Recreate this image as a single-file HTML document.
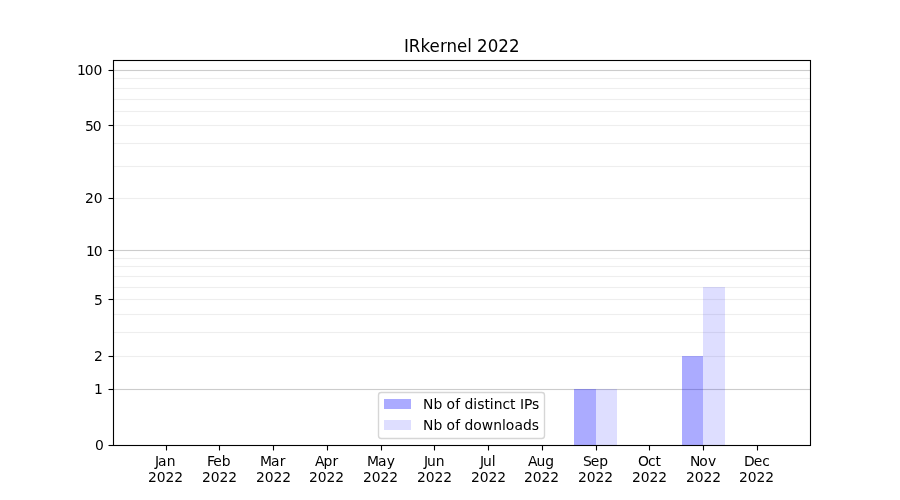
<!DOCTYPE html>
<html lang="en"><head><meta charset="utf-8"><title>IRkernel 2022</title>
<style>
html,body{margin:0;padding:0;background:#ffffff;}
body{width:900px;height:500px;overflow:hidden;}
svg{display:block;}
</style></head><body>
<svg width="900" height="500" viewBox="0 0 900 500">
<rect x="0" y="0" width="900" height="500" fill="#ffffff"/>
<g stroke="#cccccc" stroke-width="1.1111" fill="none">
<rect x="113.5" y="69.9444" width="697" height="1.1111" fill="#cccccc" stroke="none"/>
<rect x="113.5" y="249.9444" width="697" height="1.1111" fill="#cccccc" stroke="none"/>
<rect x="113.5" y="388.9444" width="697" height="1.1111" fill="#cccccc" stroke="none"/>
</g>
<g stroke="#eeeeee" stroke-width="1.1111" fill="none">
<rect x="113.5" y="77.9444" width="697" height="1.1111" fill="#eeeeee" stroke="none"/>
<rect x="113.5" y="87.9444" width="697" height="1.1111" fill="#eeeeee" stroke="none"/>
<rect x="113.5" y="98.9444" width="697" height="1.1111" fill="#eeeeee" stroke="none"/>
<rect x="113.5" y="110.9444" width="697" height="1.1111" fill="#eeeeee" stroke="none"/>
<rect x="113.5" y="124.9444" width="697" height="1.1111" fill="#eeeeee" stroke="none"/>
<rect x="113.5" y="142.9444" width="697" height="1.1111" fill="#eeeeee" stroke="none"/>
<rect x="113.5" y="165.9444" width="697" height="1.1111" fill="#eeeeee" stroke="none"/>
<rect x="113.5" y="197.9444" width="697" height="1.1111" fill="#eeeeee" stroke="none"/>
<rect x="113.5" y="257.9444" width="697" height="1.1111" fill="#eeeeee" stroke="none"/>
<rect x="113.5" y="265.9444" width="697" height="1.1111" fill="#eeeeee" stroke="none"/>
<rect x="113.5" y="275.9444" width="697" height="1.1111" fill="#eeeeee" stroke="none"/>
<rect x="113.5" y="286.9444" width="697" height="1.1111" fill="#eeeeee" stroke="none"/>
<rect x="113.5" y="298.9444" width="697" height="1.1111" fill="#eeeeee" stroke="none"/>
<rect x="113.5" y="313.9444" width="697" height="1.1111" fill="#eeeeee" stroke="none"/>
<rect x="113.5" y="331.9444" width="697" height="1.1111" fill="#eeeeee" stroke="none"/>
<rect x="113.5" y="355.9444" width="697" height="1.1111" fill="#eeeeee" stroke="none"/>
</g>
<g fill="#0000ff" shape-rendering="crispEdges">
<rect x="574" y="389" width="22" height="56" fill-opacity="0.33"/>
<rect x="596" y="389" width="21" height="56" fill-opacity="0.13"/>
<rect x="682" y="356" width="21" height="89" fill-opacity="0.33"/>
<rect x="703" y="287" width="22" height="158" fill-opacity="0.13"/>
</g>
<g stroke="#000000" stroke-width="1.1111" fill="none">
<line x1="166.5" y1="445.5" x2="166.5" y2="450.5"/>
<line x1="219.5" y1="445.5" x2="219.5" y2="450.5"/>
<line x1="273.5" y1="445.5" x2="273.5" y2="450.5"/>
<line x1="327.5" y1="445.5" x2="327.5" y2="450.5"/>
<line x1="381.5" y1="445.5" x2="381.5" y2="450.5"/>
<line x1="434.5" y1="445.5" x2="434.5" y2="450.5"/>
<line x1="488.5" y1="445.5" x2="488.5" y2="450.5"/>
<line x1="542.5" y1="445.5" x2="542.5" y2="450.5"/>
<line x1="596.5" y1="445.5" x2="596.5" y2="450.5"/>
<line x1="649.5" y1="445.5" x2="649.5" y2="450.5"/>
<line x1="703.5" y1="445.5" x2="703.5" y2="450.5"/>
<line x1="757.5" y1="445.5" x2="757.5" y2="450.5"/>
<line x1="113.5" y1="445.5" x2="108.5" y2="445.5"/>
<line x1="113.5" y1="389.5" x2="108.5" y2="389.5"/>
<line x1="113.5" y1="356.5" x2="108.5" y2="356.5"/>
<line x1="113.5" y1="299.5" x2="108.5" y2="299.5"/>
<line x1="113.5" y1="250.5" x2="108.5" y2="250.5"/>
<line x1="113.5" y1="198.5" x2="108.5" y2="198.5"/>
<line x1="113.5" y1="125.5" x2="108.5" y2="125.5"/>
<line x1="113.5" y1="70.5" x2="108.5" y2="70.5"/>
</g>
<rect x="113.5" y="60.5" width="697" height="385" fill="none" stroke="#000000" stroke-width="1.1111"/>
<rect x="378.5" y="392.5" width="166" height="46" rx="2.78" ry="2.78" fill="#ffffff" fill-opacity="0.8" stroke="#cccccc" stroke-opacity="0.8" stroke-width="1.3889"/>
<rect x="384" y="399" width="27" height="10" fill="#0000ff" fill-opacity="0.33" shape-rendering="crispEdges"/>
<rect x="384" y="420" width="27" height="10" fill="#0000ff" fill-opacity="0.13" shape-rendering="crispEdges"/>
<g fill="#000000" font-family="'DejaVu Sans', 'Liberation Sans', sans-serif">
<text transform="translate(154.6875 465.50) scale(1 1.0200)" x="0.25 3.25 12.12" y="0" font-size="13.8889">Jan</text>
<text transform="translate(148.0000 481.50) scale(1 1.0400)" x="0.00 8.75 17.50 26.25" y="0" font-size="13.8889">2022</text>
<text transform="translate(206.6250 465.50) scale(1 1.0001)" x="0.50 6.75 15.25" y="0" font-size="13.8889">Feb</text>
<text transform="translate(202.0000 481.50) scale(1 1.0400)" x="0.00 8.75 17.50 26.25" y="0" font-size="13.8889">2022</text>
<text transform="translate(259.6250 465.50) scale(1 1.0200)" x="0.50 11.50 20.12" y="0" font-size="13.8889">Mar</text>
<text transform="translate(256.0000 481.50) scale(1 1.0400)" x="0.00 8.75 17.50 26.25" y="0" font-size="13.8889">2022</text>
<text transform="translate(314.8906 465.50) scale(1 1.0100)" x="0.00 8.50 17.62" y="0" font-size="13.8889">Apr</text>
<text transform="translate(309.0000 481.50) scale(1 1.0400)" x="0.00 8.75 17.50 26.25" y="0" font-size="13.8889">2022</text>
<text transform="translate(366.6250 465.50) scale(1 1.0200)" x="0.50 11.50 20.12" y="0" font-size="13.8889">May</text>
<text transform="translate(363.0000 481.50) scale(1 1.0400)" x="0.00 8.75 17.50 26.25" y="0" font-size="13.8889">2022</text>
<text transform="translate(423.6875 465.50) scale(1 1.0300)" x="0.25 3.25 12.00" y="0" font-size="13.8889">Jun</text>
<text transform="translate(417.0000 481.50) scale(1 1.0400)" x="0.00 8.75 17.50 26.25" y="0" font-size="13.8889">2022</text>
<text transform="translate(479.6875 465.50) scale(1 1.0400)" x="0.25 3.25 12.00" y="0" font-size="13.8889">Jul</text>
<text transform="translate(471.0000 481.50) scale(1 1.0400)" x="0.00 8.75 17.50 26.25" y="0" font-size="13.8889">2022</text>
<text transform="translate(527.8906 465.50) scale(1 1.0700)" x="0.00 8.50 17.25" y="0" font-size="13.8889">Aug</text>
<text transform="translate(524.0000 481.50) scale(1 1.0400)" x="0.00 8.75 17.50 26.25" y="0" font-size="13.8889">2022</text>
<text transform="translate(582.1250 465.50) scale(1 1.0300)" x="1.00 8.75 17.25" y="0" font-size="13.8889">Sep</text>
<text transform="translate(578.0000 481.50) scale(1 1.0400)" x="0.00 8.75 17.50 26.25" y="0" font-size="13.8889">2022</text>
<text transform="translate(637.2500 465.50) scale(1 1.0100)" x="0.75 10.88 18.25" y="0" font-size="13.8889">Oct</text>
<text transform="translate(632.0000 481.50) scale(1 1.0400)" x="0.00 8.75 17.50 26.25" y="0" font-size="13.8889">2022</text>
<text transform="translate(689.6250 465.50) scale(1 1.0300)" x="0.50 9.62 18.38" y="0" font-size="13.8889">Nov</text>
<text transform="translate(686.0000 481.50) scale(1 1.0400)" x="0.00 8.75 17.50 26.25" y="0" font-size="13.8889">2022</text>
<text transform="translate(743.6250 465.50) scale(1 1.0200)" x="0.50 10.25 18.75" y="0" font-size="13.8889">Dec</text>
<text transform="translate(739.0000 481.50) scale(1 1.0400)" x="0.00 8.75 17.50 26.25" y="0" font-size="13.8889">2022</text>
<text transform="translate(94.1250 449.50) scale(1 1.0400)" x="1.00" y="0" font-size="13.8889">0</text>
<text transform="translate(93.4375 393.50) scale(1 1.0500)" x="0.50" y="0" font-size="13.8889">1</text>
<text transform="translate(94.0000 360.50) scale(1 1.0300)" x="0.00" y="0" font-size="13.8889">2</text>
<text transform="translate(93.9375 304.50) scale(1 1.0200)" x="0.00" y="0" font-size="13.8889">5</text>
<text transform="translate(85.4375 255.50) scale(1 1.0500)" x="0.50 8.38" y="0" font-size="13.8889">10</text>
<text transform="translate(85.0000 202.50) scale(1 1.0400)" x="0.00 8.75" y="0" font-size="13.8889">20</text>
<text transform="translate(84.9375 130.50) scale(1 1.0400)" x="0.00 7.75" y="0" font-size="13.8889">50</text>
<text transform="translate(76.4375 74.50) scale(1 1.0500)" x="0.50 8.38 17.12" y="0" font-size="13.8889">100</text>
<text transform="translate(404.0000 51.50) scale(1 1.0600)" x="0.00 4.88 16.50 25.62 36.12 42.50 53.00 63.25 67.88 73.12 83.75 94.25 105.12" y="0" font-size="16.6667">IRkernel 2022</text>
<text transform="translate(423.0000 408.50) scale(1 1.0500)" x="0.00 10.62 19.25 23.62 32.38 37.12 41.50 50.38 54.25 61.62 66.88 70.75 79.50 87.12 92.62 97.00 101.00 109.12" y="0" font-size="13.8889">Nb of distinct IPs</text>
<text transform="translate(423.0000 429.50) scale(1 1.0500)" x="0.00 10.62 19.25 23.62 32.38 37.12 41.50 50.38 58.88 70.25 79.00 82.88 91.62 100.00 108.88" y="0" font-size="13.8889">Nb of downloads</text>
</g>
</svg>
</body></html>
